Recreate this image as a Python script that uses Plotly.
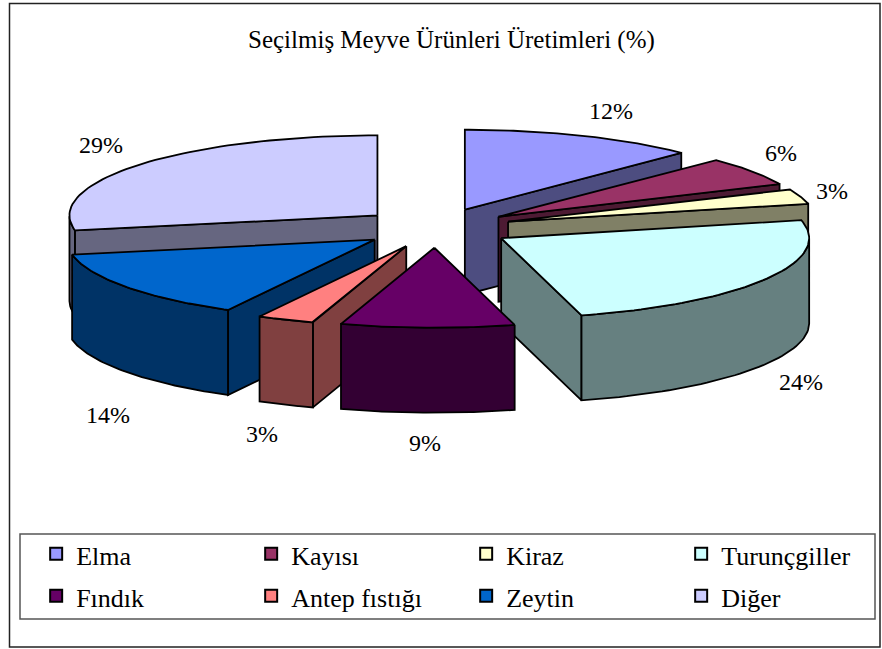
import numpy as np
import plotly.graph_objects as go

categories = ["Elma", "Kayısı", "Kiraz", "Turunçgiller", "Fındık", "Antep fıstığı", "Zeytin", "Diğer"]
# shares estimated from the drawn angles, the labels below are what the chart prints
shares = [12.4, 5.9, 3.1, 24.4, 9.1, 3.0, 14.1, 28.0]
pct_labels = ["12%", "6%", "3%", "24%", "9%", "3%", "14%", "29%"]
top_colors = ["#9999FF", "#993366", "#FFFFCC", "#CCFFFF", "#660066", "#FF8080", "#0066CC", "#CCCCFF"]
side_colors = ["#4D4D80", "#4D1A33", "#808066", "#668080", "#330033", "#804040", "#003366", "#666680"]

# pie geometry in page pixels
CX, CY = 436, 228
RX, RY = 308, 80
EXPLODE = 76
DEPTH = 85
SERIF = "Liberation Serif, Times New Roman, serif"
# nudges for the percent labels, same order as pct_labels
label_nudge = [(15, -4), (0, -5), (-2, 2), (5, -4), (-2, -2), (-10, -1), (11, 20), (-11, -5)]


def face(fig, x, y, color):
    fig.add_trace(go.Scatter(x=x, y=y, mode="lines", fill="toself", fillcolor=color,
                             line=dict(color="black", width=1.8), hoverinfo="skip", showlegend=False))


fig = go.Figure()

edges = np.cumsum([0] + shares) / sum(shares) * 2 * np.pi
mids = (edges[:-1] + edges[1:]) / 2

# back slices first so the front ones cover them
for i in np.argsort(-np.cos(mids)):
    t0, t1, tm = edges[i], edges[i + 1], mids[i]
    ax = CX + EXPLODE * np.sin(tm)
    ay = CY - EXPLODE * RY / RX * np.cos(tm)
    arc = np.linspace(t0, t1, 60)
    arc_x = ax + RX * np.sin(arc)
    arc_y = ay - RY * np.cos(arc)

    # radial walls, only when turned towards the viewer
    if np.sin(t0) < 0:
        face(fig, [ax, arc_x[0], arc_x[0], ax, ax],
             [ay, arc_y[0], arc_y[0] + DEPTH, ay + DEPTH, ay], side_colors[i])
    if np.sin(t1) > 0:
        face(fig, [ax, arc_x[-1], arc_x[-1], ax, ax],
             [ay, arc_y[-1], arc_y[-1] + DEPTH, ay + DEPTH, ay], side_colors[i])

    # outer wall, front half of the rim only
    front = np.cos(arc) < 0
    if front.any():
        fx, fy = arc_x[front], arc_y[front]
        face(fig, np.r_[fx, fx[::-1], fx[0]], np.r_[fy, fy[::-1] + DEPTH, fy[0]], side_colors[i])

    face(fig, np.r_[ax, arc_x, ax], np.r_[ay, arc_y, ay], top_colors[i])

# legend entries, the outer font size only sets the row height
for name, color in zip(categories, top_colors):
    fig.add_trace(go.Scatter(x=[None], y=[None], mode="markers",
                             name=f'<span style="font-size:26px">{name}</span>',
                             marker=dict(symbol="square", size=14, color=color,
                                         line=dict(color="black", width=1.5))))

# percent labels outside the rim
for i, text in enumerate(pct_labels):
    t = mids[i]
    dx, dy = label_nudge[i]
    fig.add_annotation(x=CX + 420 * np.sin(t) + dx,
                       y=CY - 122 * np.cos(t) + (DEPTH + 10 if np.cos(t) < 0 else 0) + dy,
                       text=text, showarrow=False, font=dict(family=SERIF, size=24, color="black"))

fig.add_annotation(x=451, y=40, text="Seçilmiş Meyve Ürünleri Üretimleri (%)", showarrow=False,
                   font=dict(family=SERIF, size=25, color="black"))

fig.add_shape(type="rect", x0=9.5, y0=3.5, x1=880, y1=647, line=dict(color="#222222", width=1.5))
fig.add_shape(type="rect", x0=20, y0=534, x1=875, y1=619, line=dict(color="#555555", width=1.5))

fig.update_layout(
    width=882, height=649,
    margin=dict(l=0, r=0, t=0, b=0, autoexpand=False),
    paper_bgcolor="white", plot_bgcolor="white",
    xaxis=dict(range=[0, 882], visible=False, fixedrange=True),
    yaxis=dict(range=[649, 0], visible=False, fixedrange=True),
    legend=dict(orientation="h", x=0.041, y=0.187, xanchor="left", yanchor="top",
                entrywidth=170, entrywidthmode="pixels", traceorder="normal",
                bgcolor="rgba(0,0,0,0)",
                font=dict(family=SERIF, size=30, color="black"), itemsizing="constant"),
)

fig.write_html("out.html", config=dict(displayModeBar=False),
               post_script="document.body.style.margin='0';")
